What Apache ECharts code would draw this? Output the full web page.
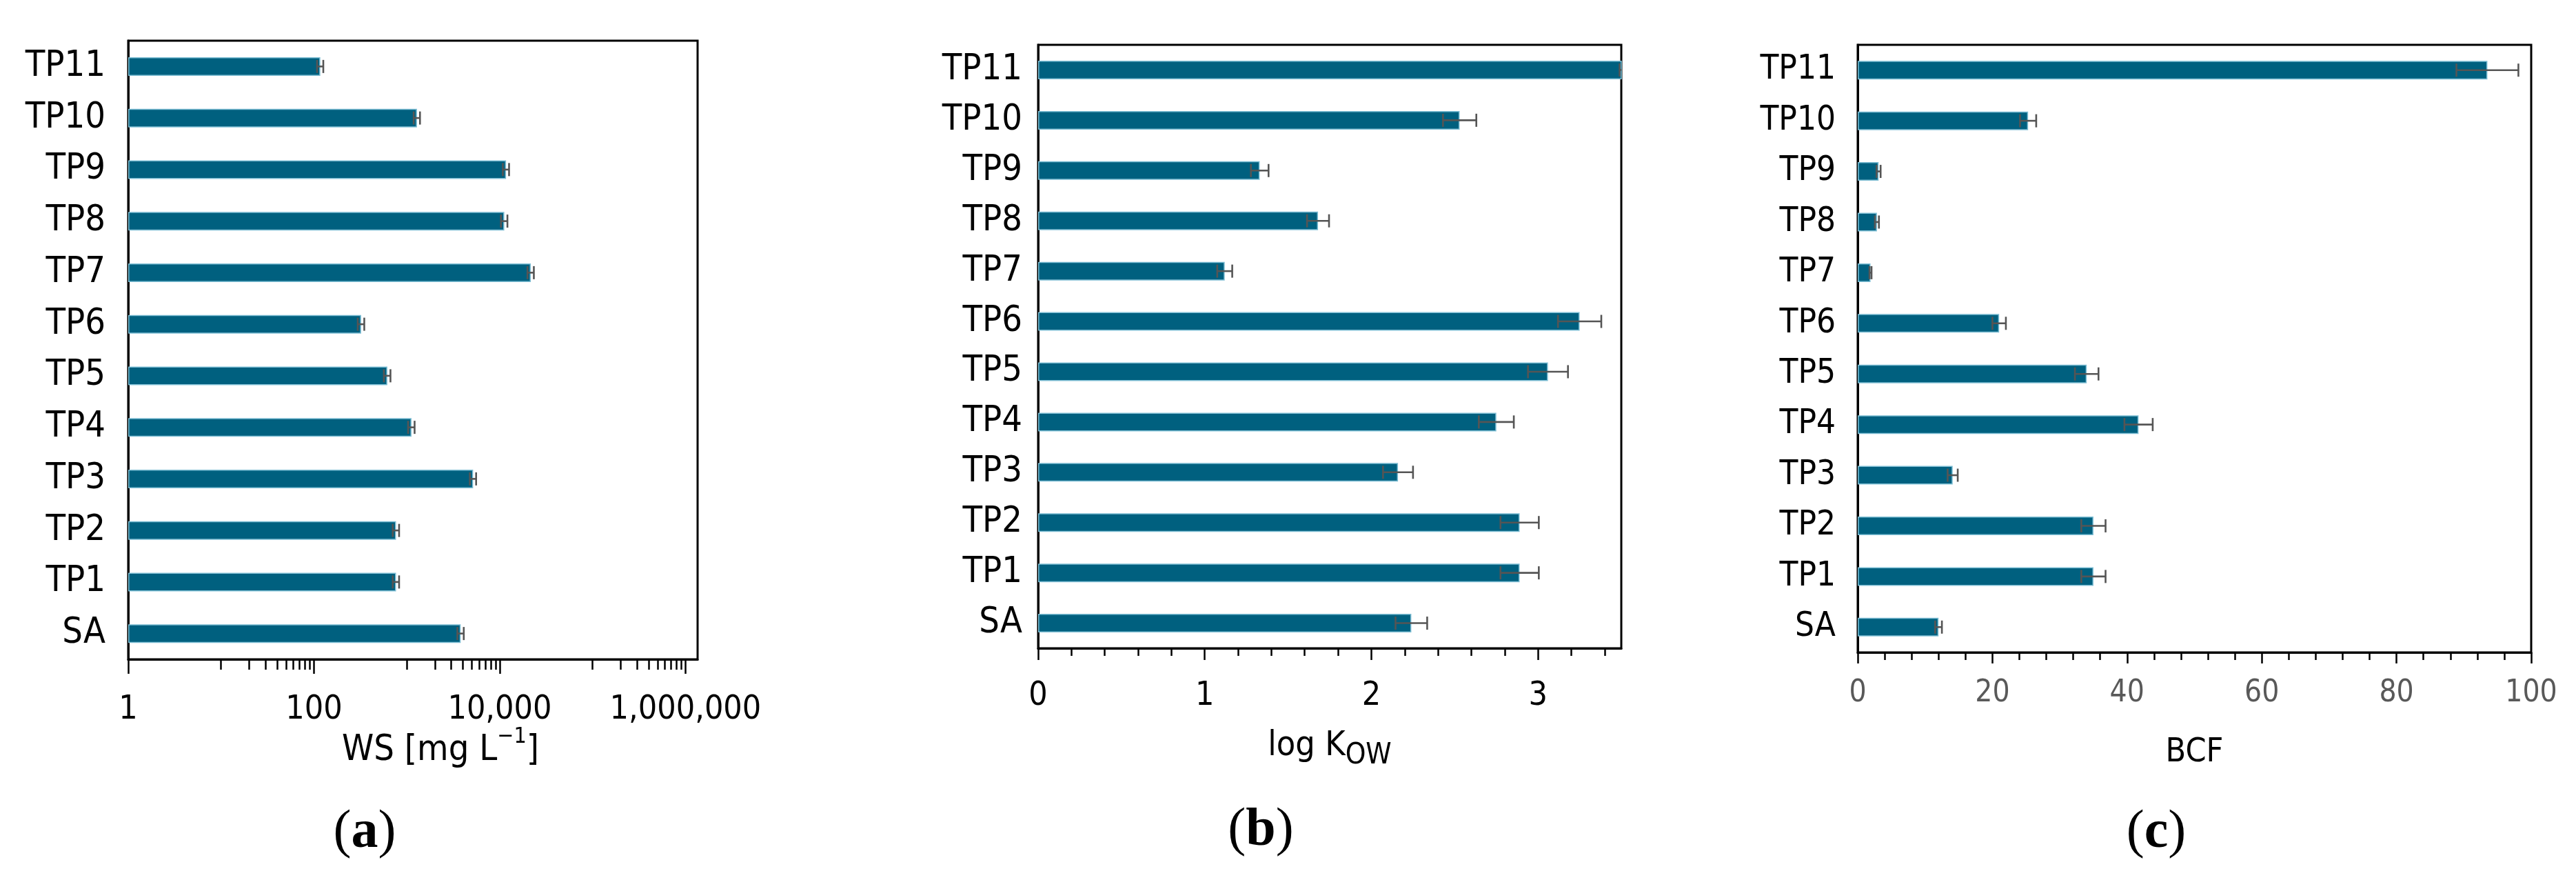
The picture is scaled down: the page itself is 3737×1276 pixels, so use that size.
<!DOCTYPE html>
<html>
<head>
<meta charset="utf-8">
<script src="https://cdn.jsdelivr.net/npm/echarts@6/dist/echarts.min.js"></script>
<style>
html,body{margin:0;padding:0;background:#fff;}
#chart{width:3737px;height:1276px;}
</style>
</head>
<body>
<div id="chart"></div>
<script>
// ---------- data (bottom to top) ----------
const categories = ['SA','TP1','TP2','TP3','TP4','TP5','TP6','TP7','TP8','TP9','TP10','TP11'];

// (a) water solubility, mg/L
const wsValues = [3800, 765, 765, 5170, 1122, 616, 322, 21600, 11200, 11700, 1285, 117];
const wsErr    = [300, 60, 60, 400, 90, 50, 26, 1700, 900, 900, 100, 9];

// (b) log Kow
const kowValues = [2.24, 2.89, 2.89, 2.16, 2.75, 3.06, 3.25, 1.12, 1.68, 1.33, 2.53, 3.62];
const kowErr    = [0.095, 0.115, 0.115, 0.09, 0.105, 0.12, 0.13, 0.045, 0.066, 0.053, 0.10, 0.13];

// (c) BCF
const bcfValues = [12.0, 35.0, 35.0, 14.1, 41.7, 34.0, 21.0, 1.9, 2.85, 3.1, 25.3, 93.5];
const bcfErr    = [0.5, 1.8, 1.8, 0.75, 2.1, 1.75, 1.0, 0.15, 0.3, 0.3, 1.2, 4.6];

// tick values
const wsMajorTicks = [1, 100, 10000, 1000000];
const wsMinorTicks = [10, 20, 30, 40, 50, 60, 70, 80, 90,
                      1000, 2000, 3000, 4000, 5000, 6000, 7000, 8000, 9000,
                      100000, 200000, 300000, 400000, 500000, 600000, 700000, 800000, 900000];
const kowMajorTicks = [0, 1, 2, 3];
const kowMinorTicks = [0.2, 0.4, 0.6, 0.8, 1.2, 1.4, 1.6, 1.8, 2.2, 2.4, 2.6, 2.8, 3.2, 3.4];
const bcfMajorTicks = [0, 20, 40, 60, 80, 100];
const bcfMinorTicks = [4, 8, 12, 16, 24, 28, 32, 36, 44, 48, 52, 56, 64, 68, 72, 76, 84, 88, 92, 96];

// ---------- styling ----------
const SANS = "'Liberation Sans Narrow', 'Arial Narrow', 'DejaVu Sans Condensed', 'Liberation Sans', Arial, sans-serif";
const SERIF = "'Liberation Serif', 'Times New Roman', 'DejaVu Serif', serif";
const BAR_COLOR = '#00607f';
const ERR_COLOR = '#555555';

const grids = [
  {left: 186, top: 59, width: 826, height: 897},
  {left: 1506, top: 65, width: 846, height: 875},
  {left: 2695, top: 65, width: 977, height: 881}
].map(g => Object.assign({show: true, borderColor: '#000', borderWidth: 3, backgroundColor: '#fff',
  containLabel: false, outerBoundsMode: 'none'}, g));

function yAxisFor(i, fs, margin) {
  return {
    type: 'category', gridIndex: i, data: categories,
    axisLine: {show: true, lineStyle: {color: '#000', width: 3}},
    axisTick: {show: false},
    axisLabel: {interval: 0, fontFamily: SANS, fontSize: fs, color: '#000', margin: margin},
    splitLine: {show: false}
  };
}

function mainX(i, type, min, max, major, opt) {
  const ax = {
    type: type, gridIndex: i, position: 'bottom', min: min, max: max,
    axisLine: {show: true, onZero: false, lineStyle: {color: '#000', width: 3}},
    axisTick: {show: true, inside: false, length: opt.tickLen, customValues: major,
      lineStyle: {color: '#000', width: 2.5}},
    minorTick: {show: false},
    axisLabel: {customValues: major, fontFamily: SANS, fontSize: opt.labelSize, color: opt.labelColor,
      margin: opt.labelMargin, formatter: opt.formatter, hideOverlap: false},
    splitLine: {show: false},
    name: opt.name, nameLocation: 'middle', nameGap: opt.nameGap, nameMoveOverlap: false,
    nameTextStyle: opt.nameStyle
  };
  if (type === 'log') ax.logBase = 10;
  return ax;
}

function minorX(i, type, min, max, minor, len) {
  const ax = {
    type: type, gridIndex: i, position: 'bottom', offset: 0, min: min, max: max,
    axisLine: {show: false},
    axisTick: {show: true, inside: false, length: len, customValues: minor,
      lineStyle: {color: '#000', width: 2.5}},
    axisLabel: {show: false},
    splitLine: {show: false}
  };
  if (type === 'log') ax.logBase = 10;
  return ax;
}

function errData(vals, errs) {
  return vals.map((v, k) => [v - errs[k], v + errs[k], categories[k]]);
}

function errRender(params, api) {
  const lo = api.value(0), hi = api.value(1), cat = api.value(2);
  const pLo = api.coord([lo, cat]);
  const pHi = api.coord([hi, cat]);
  const cs = params.coordSys;
  const xMax = cs.x + cs.width;
  const y = pLo[1];
  const half = 9.5;
  const style = {stroke: ERR_COLOR, lineWidth: 2.6};
  const children = [];
  const x1 = Math.min(pLo[0], xMax), x2 = Math.min(pHi[0], xMax);
  if (x2 > x1) children.push({type: 'line', shape: {x1: x1, y1: y, x2: x2, y2: y}, style: style});
  if (pLo[0] <= xMax) children.push({type: 'line', shape: {x1: pLo[0], y1: y - half, x2: pLo[0], y2: y + half}, style: style});
  if (pHi[0] <= xMax) children.push({type: 'line', shape: {x1: pHi[0], y1: y - half, x2: pHi[0], y2: y + half}, style: style});
  return {type: 'group', children: children};
}

function barSeries(i, data) {
  return {
    type: 'bar', xAxisIndex: i, yAxisIndex: i, data: data, barWidth: 27, clip: true,
    itemStyle: {color: BAR_COLOR, borderColor: '#7dbdd3', borderWidth: 1.5},
    emphasis: {disabled: true}, silent: true, z: 2
  };
}

function errSeries(i, vals, errs) {
  return {
    type: 'custom', xAxisIndex: i, yAxisIndex: i, data: errData(vals, errs),
    encode: {x: [0, 1], y: 2}, renderItem: errRender, silent: true, z: 3
  };
}

function panelLabel(x, y, letter) {
  return {
    type: 'text', x: x, y: y, silent: true,
    style: {
      text: '{p|(}{b|' + letter + '}{p|)}', align: 'center', verticalAlign: 'middle',
      rich: {
        p: {fontFamily: SERIF, fontSize: 78, fill: '#000'},
        b: {fontFamily: SERIF, fontSize: 78, fontWeight: 'bold', fill: '#000'}
      }
    }
  };
}

const wsMax = 1350000;

const option = {
  animation: false,
  backgroundColor: '#fff',
  textStyle: {fontFamily: SANS},
  grid: grids,
  xAxis: [
    mainX(0, 'log', 1, wsMax, wsMajorTicks, {
      tickLen: 21, labelSize: 48, labelColor: '#000', labelMargin: 50,
      formatter: v => Math.round(v).toLocaleString('en-US'),
      name: 'WS [mg L{sup|\u22121}]', nameGap: 97,
      nameStyle: {fontFamily: SANS, fontSize: 52, color: '#000', lineHeight: 70, padding: [0, 0, 0, 80],
        rich: {sup: {fontFamily: SANS, fontSize: 32, color: '#000', lineHeight: 46, verticalAlign: 'top'}}}
    }),
    mainX(1, 'value', 0, 3.5, kowMajorTicks, {
      tickLen: 17, labelSize: 48, labelColor: '#000', labelMargin: 46,
      formatter: v => String(v),
      name: 'log K{sub|OW}', nameGap: 107,
      nameStyle: {fontFamily: SANS, fontSize: 50, color: '#000', lineHeight: 70,
        rich: {sub: {fontFamily: SANS, fontSize: 42, color: '#000', lineHeight: 46, verticalAlign: 'bottom'}}}
    }),
    mainX(2, 'value', 0, 100, bcfMajorTicks, {
      tickLen: 16, labelSize: 44, labelColor: '#595959', labelMargin: 38,
      formatter: v => String(v),
      name: 'BCF', nameGap: 111,
      nameStyle: {fontFamily: SANS, fontSize: 48, color: '#000', lineHeight: 70}
    }),
    minorX(0, 'log', 1, wsMax, wsMinorTicks, 15),
    minorX(1, 'value', 0, 3.5, kowMinorTicks, 11),
    minorX(2, 'value', 0, 100, bcfMinorTicks, 11)
  ],
  yAxis: [
    yAxisFor(0, 52, 33),
    yAxisFor(1, 52, 23),
    yAxisFor(2, 49, 32)
  ],
  series: [
    barSeries(0, wsValues),
    barSeries(1, kowValues),
    barSeries(2, bcfValues),
    errSeries(0, wsValues, wsErr),
    errSeries(1, kowValues, kowErr),
    errSeries(2, bcfValues, bcfErr)
  ],
  graphic: [
    panelLabel(529, 1208, 'a'),
    panelLabel(1829, 1205, 'b'),
    panelLabel(3128, 1208, 'c')
  ]
};

const chart = echarts.init(document.getElementById('chart'), null, {renderer: 'canvas'});
chart.setOption(option);
</script>
</body>
</html>
